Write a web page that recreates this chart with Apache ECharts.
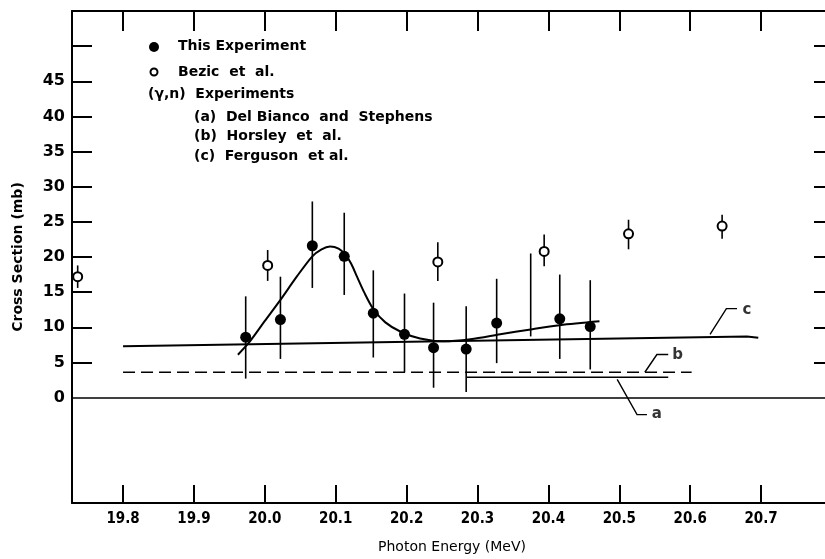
<!DOCTYPE html>
<html>
<head>
<meta charset="utf-8">
<script src="https://cdn.jsdelivr.net/npm/echarts@6/dist/echarts.min.js"></script>
<style>
  html, body { margin: 0; padding: 0; background: #fff; }
  #chart { width: 825px; height: 559px; }
</style>
</head>
<body>
<div id="chart"></div>
<script>
// this experiment (filled dots)
var expX  = [19.973, 20.022, 20.067, 20.112, 20.153, 20.197, 20.238, 20.284, 20.327, 20.416, 20.459];
var expY  = [8.6, 11.1, 21.6, 20.1, 12.0, 9.0, 7.1, 6.9, 10.6, 11.2, 10.1];
var expLo = [2.7, 5.5, 15.6, 14.6, 5.7, 3.6, 1.4, 0.8, 4.9, 5.5, 4.0];
var expHi = [14.4, 17.2, 27.9, 26.3, 18.1, 14.8, 13.5, 13.0, 16.9, 17.5, 16.7];
// error bar drawn without a dot
var loneX = [20.375];
var loneLo = [8.7];
var loneHi = [20.5];

// Bezic et al. (open circles)
var bezX  = [19.736, 20.004, 20.244, 20.394, 20.513, 20.645];
var bezY  = [17.2, 18.8, 19.3, 20.8, 23.3, 24.4];
var bezLo = [15.6, 16.6, 16.6, 18.7, 21.1, 22.6];
var bezHi = [18.8, 21.0, 22.1, 23.2, 25.3, 26.0];

// fitted curve through this experiment
var fitX = [19.962, 19.979, 20.000, 20.022, 20.045, 20.067, 20.080, 20.092, 20.104, 20.114, 20.122, 20.130, 20.140, 20.153, 20.170, 20.191, 20.219, 20.252, 20.290, 20.332, 20.375, 20.416, 20.472];
var fitY = [6.1, 8.0, 10.9, 13.9, 17.2, 20.1, 21.1, 21.5, 21.2, 20.3, 19.0, 17.2, 15.0, 12.6, 10.7, 9.4, 8.4, 8.0, 8.3, 9.0, 9.7, 10.3, 10.85];

// (gamma,n) experiments
var fergX = [19.8, 20.68, 20.696];
var fergY = [7.3, 8.7, 8.5];
var horsX = [19.8, 20.602];
var horsY = [3.6, 3.6];
var delbX = [20.285, 20.569];
var delbY = [2.9, 2.9];

// leader lines and their letters
var leaderC = [[20.666, 12.66], [20.651, 12.66], [20.628, 9.0]];
var leaderB = [[20.569, 6.12], [20.553, 6.12], [20.536, 3.6]];
var leaderA = [[20.539, -2.42], [20.525, -2.42], [20.497, 2.6]];
var letters = [['c', 20.671, 12.4], ['b', 20.572, 6.0], ['a', 20.543, -2.3]];

var xTicks = [19.8, 19.9, 20.0, 20.1, 20.2, 20.3, 20.4, 20.5, 20.6, 20.7];
var yLabels = [0, 5, 10, 15, 20, 25, 30, 35, 40, 45];
var yTicks = [5, 10, 15, 20, 25, 30, 35, 40, 45, 50];

function zip(xs, ys) {
  return xs.map(function (x, i) { return [x, ys[i]]; });
}
function bars(xs, lo, hi) {
  return xs.map(function (x, i) { return [x, lo[i], hi[i]]; });
}

var chart = echarts.init(document.getElementById('chart'));

function errorBar(params, api) {
  var p1 = api.coord([api.value(0), api.value(1)]);
  var p2 = api.coord([api.value(0), api.value(2)]);
  return {
    type: 'line',
    shape: { x1: p1[0], y1: p1[1], x2: p2[0], y2: p2[1] },
    style: { stroke: '#000', lineWidth: 1.6 }
  };
}

var fontFam = 'DejaVu Sans';
var legFont = 'bold 14px "DejaVu Sans"';
var axLine = { show: true, onZero: false, lineStyle: { color: '#000', width: 2 } };

var option = {
  animation: false,
  backgroundColor: '#fff',
  grid: { left: 72, top: 11, right: -7, bottom: 56, outerBoundsMode: 'none', containLabel: false },
  xAxis: [{
    type: 'value', min: 19.728, max: 20.8, position: 'bottom',
    splitLine: { show: false },
    axisLine: axLine,
    axisTick: { inside: true, length: 18, customValues: xTicks, lineStyle: { color: '#000', width: 2 } },
    axisLabel: { customValues: xTicks, margin: 9, color: '#000', fontFamily: 'DejaVu Sans Condensed', fontSize: 15, fontWeight: 'bold',
      formatter: function (v) { return v.toFixed(1); } },
    name: 'Photon Energy (MeV)', nameLocation: 'middle', nameGap: 37, nameMoveOverlap: false,
    nameTextStyle: { color: '#000', fontFamily: fontFam, fontSize: 14 }
  }, {
    type: 'value', min: 19.728, max: 20.8, position: 'top',
    splitLine: { show: false },
    axisLine: axLine,
    axisTick: { inside: true, length: 20, customValues: xTicks, lineStyle: { color: '#000', width: 2 } },
    axisLabel: { show: false }
  }],
  yAxis: [{
    type: 'value', min: -15, max: 55, position: 'left',
    splitLine: { show: false },
    axisLine: axLine,
    axisTick: { inside: true, length: 20, customValues: yTicks, lineStyle: { color: '#000', width: 2 } },
    axisLabel: { customValues: yLabels, margin: 7, color: '#000', fontFamily: fontFam, fontSize: 16, fontWeight: 'bold' },
    name: 'Cross Section (mb)', nameLocation: 'middle', nameGap: 47, nameRotate: 90, nameMoveOverlap: false,
    nameTextStyle: { color: '#000', fontFamily: fontFam, fontSize: 14, fontWeight: 'bold' }
  }, {
    type: 'value', min: -15, max: 55, position: 'right',
    splitLine: { show: false },
    axisLine: axLine,
    axisTick: { inside: true, length: 18, customValues: yTicks, lineStyle: { color: '#000', width: 2 } },
    axisLabel: { show: false }
  }],
  graphic: [
    { type: 'circle', shape: { cx: 154, cy: 47, r: 5 }, style: { fill: '#000' } },
    { type: 'circle', shape: { cx: 154, cy: 72, r: 3.5 }, style: { fill: '#fff', stroke: '#000', lineWidth: 2 } },
    { type: 'text', left: 178, top: 39, style: { text: 'This Experiment', font: legFont, fill: '#000' } },
    { type: 'text', left: 178, top: 65, style: { text: 'Bezic  et  al.', font: legFont, fill: '#000' } },
    { type: 'text', left: 148, top: 87, style: { text: '(\u03b3,n)  Experiments', font: legFont, fill: '#000' } },
    { type: 'text', left: 194, top: 110, style: { text: '(a)  Del Bianco  and  Stephens', font: legFont, fill: '#000' } },
    { type: 'text', left: 194, top: 129, style: { text: '(b)  Horsley  et  al.', font: legFont, fill: '#000' } },
    { type: 'text', left: 194, top: 149, style: { text: '(c)  Ferguson  et al.', font: legFont, fill: '#000' } }
  ],
  series: [
    {
      type: 'line', data: zip(fergX, fergY), showSymbol: false,
      lineStyle: { color: '#000', width: 2 },
      markLine: {
        silent: true, symbol: 'none', label: { show: false },
        lineStyle: { color: '#000', width: 1.6, type: 'solid' },
        data: [{ yAxis: 0 }]
      }
    },
    { type: 'line', data: zip(horsX, horsY), showSymbol: false,
      lineStyle: { color: '#000', width: 1.6, type: [12, 6] } },
    { type: 'line', data: zip(delbX, delbY), showSymbol: false,
      lineStyle: { color: '#000', width: 1.6 } },
    { type: 'line', data: zip(fitX, fitY), showSymbol: false, smooth: 0.3,
      lineStyle: { color: '#000', width: 2 } },
    { type: 'custom', renderItem: errorBar, data: bars(expX, expLo, expHi), z: 3 },
    { type: 'custom', renderItem: errorBar, data: bars(loneX, loneLo, loneHi), z: 3 },
    { type: 'custom', renderItem: errorBar, data: bars(bezX, bezLo, bezHi), z: 3 },
    { type: 'scatter', data: zip(expX, expY), symbolSize: 11, z: 5,
      itemStyle: { color: '#000', opacity: 1 } },
    { type: 'scatter', data: zip(bezX, bezY), symbolSize: 9, z: 5,
      itemStyle: { color: '#fff', borderColor: '#000', borderWidth: 2, opacity: 1 } },
    {
      type: 'lines', coordinateSystem: 'cartesian2d', polyline: true,
      symbol: ['none', 'arrow'], symbolSize: 6,
      lineStyle: { color: '#000', width: 1.4, opacity: 1 },
      data: [{ coords: leaderC }, { coords: leaderB }, { coords: leaderA }]
    },
    {
      type: 'scatter', symbolSize: 0,
      data: letters.map(function (l) { return { name: l[0], value: [l[1], l[2]] }; }),
      label: { show: true, position: 'right', distance: 2, formatter: '{b}',
        color: '#000', fontFamily: fontFam, fontSize: 15, fontWeight: 'bold' }
    }
  ]
};

chart.setOption(option);
</script>
</body>
</html>
